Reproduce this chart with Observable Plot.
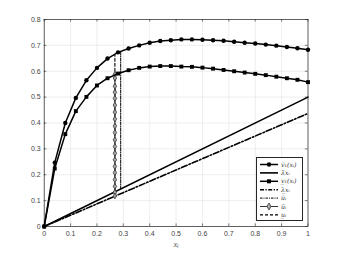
<!DOCTYPE html>
<html>
<head>
<meta charset="utf-8">
<script src="https://cdn.jsdelivr.net/npm/d3@7"></script>
<script src="https://cdn.jsdelivr.net/npm/@observablehq/plot@0.6"></script>
<style>
  html, body { margin: 0; padding: 0; background: #fff; }
  #wrap { position: relative; width: 339px; height: 254px; }
  #legend { position: absolute; left: 256px; top: 157px; width: 47px; height: 64px;
            border: 0.6px solid #262626; background: #fff; box-sizing: border-box; }
</style>
</head>
<body>
<div id="wrap"><div id="chart"></div><div id="legend"></div></div>
<script>
// ---- data ----
const xGrid = [0, 0.04, 0.08, 0.12, 0.16, 0.20, 0.24, 0.28, 0.32, 0.36, 0.40, 0.44, 0.48,
               0.52, 0.56, 0.60, 0.64, 0.68, 0.72, 0.76, 0.80, 0.84, 0.88, 0.92, 0.96, 1.0];
const vUpper = [0, 0.247, 0.400, 0.497, 0.565, 0.613, 0.649, 0.673, 0.688, 0.700, 0.710, 0.717, 0.720,
                0.723, 0.723, 0.722, 0.720, 0.718, 0.714, 0.710, 0.707, 0.703, 0.699, 0.694, 0.689, 0.683];
const vLower = [0, 0.224, 0.357, 0.446, 0.501, 0.545, 0.573, 0.591, 0.604, 0.613, 0.618, 0.620, 0.620,
                0.618, 0.617, 0.614, 0.610, 0.605, 0.600, 0.595, 0.590, 0.585, 0.579, 0.573, 0.567, 0.558];
const lamX = [0, 1];
const lamUpper = [0, 0.5];
const lamLower = [0, 0.437];
const uBarX = 0.290, uBarY = [0.145, 0.677];
const uLowX = 0.268, uLowY = [0.117, 0.664];
const uTilX = 0.268;
const uTilY = [0.588, 0.574, 0.542, 0.519, 0.495, 0.469, 0.442, 0.415, 0.388, 0.363, 0.335,
               0.309, 0.283, 0.258, 0.232, 0.208, 0.181, 0.155, 0.132, 0.118];
const xTicks = [0, 0.1, 0.2, 0.3, 0.4, 0.5, 0.6, 0.7, 0.8, 0.9, 1];
const yTicks = [0, 0.1, 0.2, 0.3, 0.4, 0.5, 0.6, 0.7, 0.8];
const legendLabels = ["v\u0304\u2081(x\u1d62)", "\u03bb\u0304x\u1d62", "v\u0332\u2081(x\u1d62)",
                      "\u03bb\u0332x\u1d62", "u\u0304\u1d62", "u\u0303\u1d62", "u\u0332\u1d62"];

// ---- tables ----
const up = xGrid.map((x, i) => ({x, y: vUpper[i]}));
const lo = xGrid.map((x, i) => ({x, y: vLower[i]}));
const lu = lamX.map((x, i) => ({x, y: lamUpper[i]}));
const ll = lamX.map((x, i) => ({x, y: lamLower[i]}));
const ub = uBarY.map(y => ({x: uBarX, y}));
const ul = uLowY.map(y => ({x: uLowX, y}));
const ut = uTilY.map(y => ({x: uTilX, y}));
const fmt = d => String(+d.toFixed(1));
const ink = "#000";

const plot = Plot.plot({
  width: 339, height: 254,
  marginLeft: 43.7, marginRight: 31.5, marginTop: 19, marginBottom: 28,
  style: {fontFamily: "'Liberation Sans', Arial, sans-serif", fontSize: "7px", color: "#444", background: "#fff"},
  x: {domain: [0, 1]},
  y: {domain: [0, 0.8]},
  marks: [
    Plot.gridX(xTicks, {stroke: "#e2e2e2", strokeOpacity: 1, strokeWidth: 0.6}),
    Plot.gridY(yTicks, {stroke: "#e2e2e2", strokeOpacity: 1, strokeWidth: 0.6}),
    Plot.axisX(xTicks, {tickSize: 0, tickPadding: 5, tickFormat: fmt, label: null, fill: "#444"}),
    Plot.axisY(yTicks, {tickSize: 0, tickPadding: 3.5, tickFormat: fmt, label: null, fill: "#444"}),
    Plot.ruleX(xTicks, {x: d => d, y1: 0, y2: 0.01, stroke: "#262626", strokeWidth: 0.6}),
    Plot.ruleX(xTicks, {x: d => d, y1: 0.79, y2: 0.8, stroke: "#262626", strokeWidth: 0.6}),
    Plot.ruleY(yTicks, {y: d => d, x1: 0, x2: 0.01, stroke: "#262626", strokeWidth: 0.6}),
    Plot.ruleY(yTicks, {y: d => d, x1: 0.99, x2: 1, stroke: "#262626", strokeWidth: 0.6}),
    Plot.frame({stroke: "#262626", strokeWidth: 0.7}),
    Plot.text(["x\u1d62"], {frameAnchor: "bottom", dy: 20, text: d => d, fontFamily: "'Liberation Serif', serif",
      fontStyle: "italic", fontSize: 8.5, fill: "#555"}),
    // lambda lines
    Plot.line(lu, {x: "x", y: "y", stroke: ink, strokeWidth: 1.6}),
    Plot.line(ll, {x: "x", y: "y", stroke: ink, strokeWidth: 1.6, strokeDasharray: "6,2,1.5,2"}),
    // vertical lines
    Plot.line(ub, {x: "x", y: "y", stroke: ink, strokeWidth: 1, strokeDasharray: "3,1.2,1,1.2"}),
    Plot.line(ul, {x: "x", y: "y", stroke: ink, strokeWidth: 1.1, strokeDasharray: "3,2"}),
    Plot.line(ut, {x: "x", y: "y", stroke: "#333", strokeWidth: 1}),
    Plot.dot(ut, {x: "x", y: "y", symbol: "diamond", r: 1.8, stroke: "#333", fill: "#aaa", strokeWidth: 0.8}),
    // curves
    Plot.line(up, {x: "x", y: "y", stroke: ink, strokeWidth: 1.5}),
    Plot.dot(up, {x: "x", y: "y", symbol: "circle", r: 2.2, fill: ink, stroke: "none"}),
    Plot.line(lo, {x: "x", y: "y", stroke: ink, strokeWidth: 1.5}),
    Plot.dot(lo, {x: "x", y: "y", symbol: "square", r: 2.2, fill: ink, stroke: "none"})
  ]
});
document.getElementById("chart").appendChild(plot);

// ---- legend (MATLAB-style, inside the axes) ----
const styles = [
  {w: 1.5, dash: null, sym: "circle"},
  {w: 1.6, dash: null, sym: null},
  {w: 1.5, dash: null, sym: "square"},
  {w: 1.6, dash: "4,1.5,1.2,1.5", sym: null},
  {w: 1, dash: "2.5,1,1,1", sym: null},
  {w: 1, dash: null, sym: "diamond"},
  {w: 1.1, dash: "3,2", sym: null}
];
const svg = d3.select("#legend").append("svg").attr("width", 47).attr("height", 64);
legendLabels.forEach((lab, i) => {
  const y = 6.5 + i * 8.4, s = styles[i];
  const g = svg.append("g");
  g.append("line").attr("x1", 3).attr("x2", 21).attr("y1", y).attr("y2", y)
    .attr("stroke", i === 5 ? "#333" : "#000").attr("stroke-width", s.w)
    .attr("stroke-dasharray", s.dash);
  if (s.sym === "circle") g.append("circle").attr("cx", 12).attr("cy", y).attr("r", 2.2).attr("fill", "#000");
  if (s.sym === "square") g.append("rect").attr("x", 10).attr("y", y - 2).attr("width", 4).attr("height", 4).attr("fill", "#000");
  if (s.sym === "diamond") g.append("path").attr("transform", `translate(12,${y})`)
    .attr("d", d3.symbol(d3.symbolDiamond, 14)()).attr("fill", "#aaa").attr("stroke", "#333").attr("stroke-width", 0.8);
  g.append("text").attr("x", 24).attr("y", y + 2.1).text(lab)
    .attr("font-family", "'DejaVu Serif', serif").attr("font-style", "italic")
    .attr("font-size", 6.2).attr("fill", "#333");
});
</script>
</body>
</html>
